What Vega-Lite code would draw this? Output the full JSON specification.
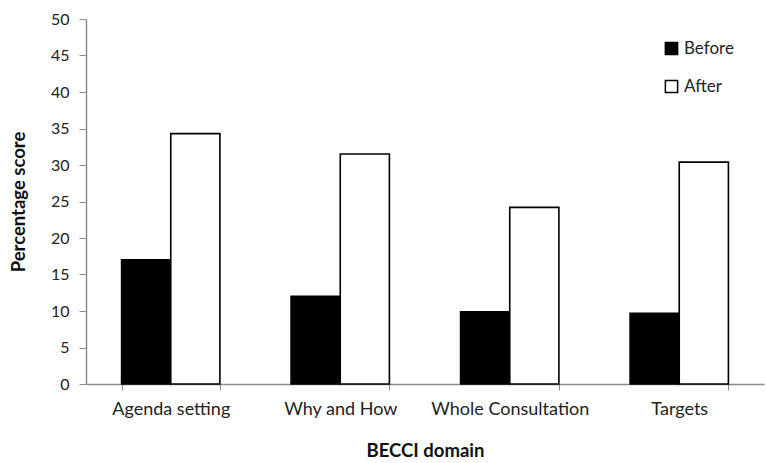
{
  "$schema": "https://vega.github.io/schema/vega-lite/v6.json",
  "width": 678,
  "height": 365,
  "autosize": {"type": "none"},
  "padding": {"left": 86, "top": 19, "right": 2, "bottom": 79},
  "background": "white",
  "config": {
    "view": {"stroke": null},
    "font": "Lato",
    "axis": {"labelFont": "Lato", "titleFont": "Lato", "labelColor": "#222", "titleColor": "#111", "grid": false, "domainColor": "#8c8c8c", "tickColor": "#8c8c8c", "labelFontSize": 18, "titleFontSize": 18.5, "titleFontWeight": "bold"}
  },
  "data": {
    "values": [
      {"domain": "Agenda setting", "period": "Before", "score": 17.0},
      {"domain": "Agenda setting", "period": "After", "score": 34.3},
      {"domain": "Why and How", "period": "Before", "score": 12.0},
      {"domain": "Why and How", "period": "After", "score": 31.5},
      {"domain": "Whole Consultation", "period": "Before", "score": 9.9},
      {"domain": "Whole Consultation", "period": "After", "score": 24.2},
      {"domain": "Targets", "period": "Before", "score": 9.7},
      {"domain": "Targets", "period": "After", "score": 30.4}
    ]
  },
  "mark": {"type": "bar", "stroke": "black", "strokeWidth": 1.6},
  "encoding": {
    "x": {
      "field": "domain", "type": "nominal", "sort": null,
      "scale": {"paddingInner": 0.42, "paddingOuter": 0.21},
      "axis": {"title": "BECCI domain", "labelAngle": 0, "tickBand": "extent", "tickSize": 6, "labelPadding": 10, "titlePadding": 23, "domainWidth": 1.5}
    },
    "y": {
      "field": "score", "type": "quantitative",
      "scale": {"domain": [0, 50], "nice": false},
      "axis": {"title": "Percentage score", "values": [0,5,10,15,20,25,30,35,40,45,50], "labelFontSize": 16, "tickSize": 7, "labelPadding": 10, "titlePadding": 22, "domainWidth": 1.5}
    },
    "xOffset": {"field": "period", "sort": ["Before", "After"]},
    "fill": {
      "field": "period", "type": "nominal",
      "scale": {"domain": ["Before", "After"], "range": ["black", "white"]},
      "legend": {"title": null, "orient": "none", "legendX": 577, "legendY": 21, "symbolType": "square", "symbolSize": 150, "symbolStrokeColor": "black", "symbolStrokeWidth": 1.5, "labelFontSize": 17, "labelColor": "#222", "rowPadding": 19, "labelOffset": 4}
    }
  }
}
